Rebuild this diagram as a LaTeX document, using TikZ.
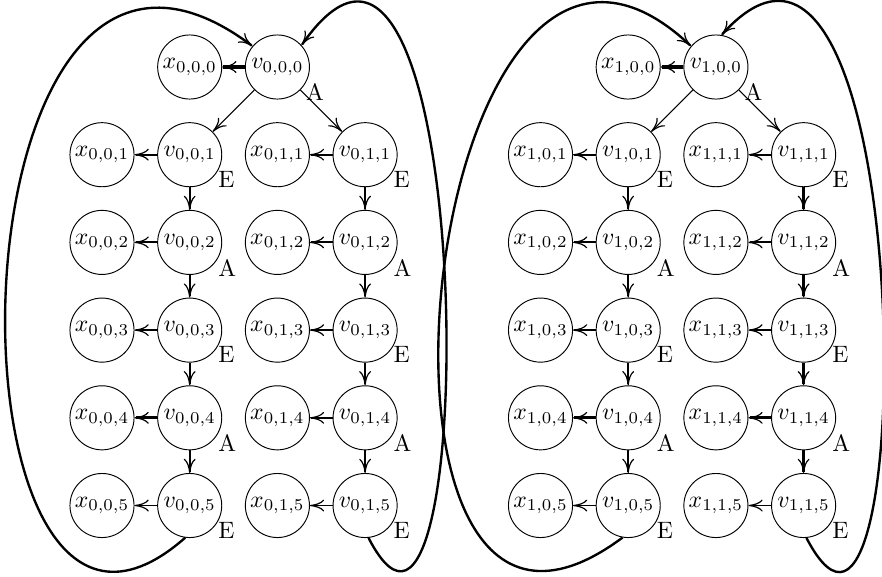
\documentclass[tikz,border=0pt]{standalone}
\usepackage{tikz}
\usetikzlibrary{arrows.meta}

\begin{document}
\begin{tikzpicture}[x=1.3cm, y=1.3cm,
    >={To[length=6pt, width=5pt, line width'=0.5pt]},
    state/.style={draw, circle, minimum size=0.95cm, inner sep=0pt},
    labA/.style={label={[inner sep=0pt]-30:A}},
    labE/.style={label={[inner sep=0pt]-30:E}},
    move/.style={->, line width=0.8pt},
    heavy/.style={->, line width=1.4pt},
    back/.style={->, line width=1pt}]
    \useasboundingbox (-1.163, 0.764) rectangle (8.894, -5.815);

    % Nodes, first block
    \node[state] (x000) at (1, 0) {$x_{0,0,0}$};
    \node[state, labA] (v000) at (2, 0) {$v_{0,0,0}$};

    \node[state] (x001) at (0, -1) {$x_{0,0,1}$};
    \node[state, labE] (v001) at (1, -1) {$v_{0,0,1}$};
    \node[state] (x011) at (2, -1) {$x_{0,1,1}$};
    \node[state, labE] (v011) at (3, -1) {$v_{0,1,1}$};

    \node[state] (x002) at (0, -2) {$x_{0,0,2}$};
    \node[state, labA] (v002) at (1, -2) {$v_{0,0,2}$};
    \node[state] (x012) at (2, -2) {$x_{0,1,2}$};
    \node[state, labA] (v012) at (3, -2) {$v_{0,1,2}$};

    \node[state] (x003) at (0, -3) {$x_{0,0,3}$};
    \node[state, labE] (v003) at (1, -3) {$v_{0,0,3}$};
    \node[state] (x013) at (2, -3) {$x_{0,1,3}$};
    \node[state, labE] (v013) at (3, -3) {$v_{0,1,3}$};

    \node[state] (x004) at (0, -4) {$x_{0,0,4}$};
    \node[state, labA] (v004) at (1, -4) {$v_{0,0,4}$};
    \node[state] (x014) at (2, -4) {$x_{0,1,4}$};
    \node[state, labA] (v014) at (3, -4) {$v_{0,1,4}$};

    \node[state] (x005) at (0, -5) {$x_{0,0,5}$};
    \node[state, labE] (v005) at (1, -5) {$v_{0,0,5}$};
    \node[state] (x015) at (2, -5) {$x_{0,1,5}$};
    \node[state, labE] (v015) at (3, -5) {$v_{0,1,5}$};

    % Nodes, second block
    \node[state] (x100) at (6, 0) {$x_{1,0,0}$};
    \node[state, labA] (v100) at (7, 0) {$v_{1,0,0}$};

    \node[state] (x101) at (5, -1) {$x_{1,0,1}$};
    \node[state, labE] (v101) at (6, -1) {$v_{1,0,1}$};
    \node[state] (x111) at (7, -1) {$x_{1,1,1}$};
    \node[state, labE] (v111) at (8, -1) {$v_{1,1,1}$};

    \node[state] (x102) at (5, -2) {$x_{1,0,2}$};
    \node[state, labA] (v102) at (6, -2) {$v_{1,0,2}$};
    \node[state] (x112) at (7, -2) {$x_{1,1,2}$};
    \node[state, labA] (v112) at (8, -2) {$v_{1,1,2}$};

    \node[state] (x103) at (5, -3) {$x_{1,0,3}$};
    \node[state, labE] (v103) at (6, -3) {$v_{1,0,3}$};
    \node[state] (x113) at (7, -3) {$x_{1,1,3}$};
    \node[state, labE] (v113) at (8, -3) {$v_{1,1,3}$};

    \node[state] (x104) at (5, -4) {$x_{1,0,4}$};
    \node[state, labA] (v104) at (6, -4) {$v_{1,0,4}$};
    \node[state] (x114) at (7, -4) {$x_{1,1,4}$};
    \node[state, labA] (v114) at (8, -4) {$v_{1,1,4}$};

    \node[state] (x105) at (5, -5) {$x_{1,0,5}$};
    \node[state, labE] (v105) at (6, -5) {$v_{1,0,5}$};
    \node[state] (x115) at (7, -5) {$x_{1,1,5}$};
    \node[state, labE] (v115) at (8, -5) {$v_{1,1,5}$};

    % Connections, first block
    \draw[heavy] (v000) -- (x000);
    \draw[->] (v000) -- (v001);
    \draw[->] (v000) -- (v011);

    \draw[move] (v001) -- (x001);
    \draw[move] (v002) -- (x002);
    \draw[move] (v003) -- (x003);
    \draw[heavy] (v004) -- (x004);
    \draw[move] (v005) -- (x005);
    \draw[move] (v011) -- (x011);
    \draw[move] (v012) -- (x012);
    \draw[move] (v013) -- (x013);
    \draw[move] (v014) -- (x014);
    \draw[move] (v015) -- (x015);

    \draw[move] (v001) -- (v002);
    \draw[move] (v002) -- (v003);
    \draw[move] (v003) -- (v004);
    \draw[move] (v004) -- (v005);
    \draw[move] (v011) -- (v012);
    \draw[move] (v012) -- (v013);
    \draw[move] (v013) -- (v014);
    \draw[move] (v014) -- (v015);

    % Connections, second block
    \draw[heavy] (v100) -- (x100);
    \draw[->] (v100) -- (v101);
    \draw[->] (v100) -- (v111);

    \draw[move] (v101) -- (x101);
    \draw[move] (v102) -- (x102);
    \draw[move] (v103) -- (x103);
    \draw[heavy] (v104) -- (x104);
    \draw[move] (v105) -- (x105);
    \draw[move] (v111) -- (x111);
    \draw[move] (v112) -- (x112);
    \draw[move] (v113) -- (x113);
    \draw[heavy] (v114) -- (x114);
    \draw[move] (v115) -- (x115);

    \draw[move] (v101) -- (v102);
    \draw[move] (v102) -- (v103);
    \draw[move] (v103) -- (v104);
    \draw[move] (v104) -- (v105);
    \draw[heavy] (v111) -- (v112);
    \draw[heavy] (v112) -- (v113);
    \draw[heavy] (v113) -- (v114);
    \draw[heavy] (v114) -- (v115);

    % Back to the roots
    \draw[back] (v005.-98) .. controls +(-2.88, -2.54) and +(-3.59, 2.69) .. (v000.140);
    \draw[back] (v015.-84) .. controls +(1.31, -2.54) and +(2.03, 2.91) .. (v000.42);
    \draw[back] (v105.-100) .. controls +(-3.41, -2.54) and +(-3.10, 2.92) .. (v100.140);
    \draw[back] (v115.-85) .. controls +(1.32, -2.54) and +(2.26, 2.51) .. (v100.80);
\end{tikzpicture}
\end{document}
